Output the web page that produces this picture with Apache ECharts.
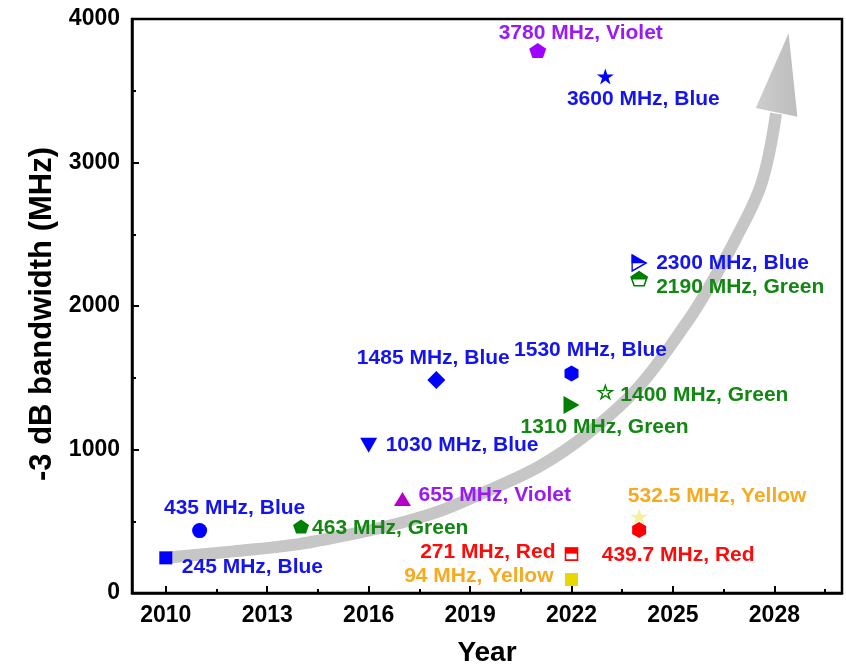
<!DOCTYPE html>
<html>
<head>
<meta charset="utf-8">
<title>-3 dB bandwidth by year</title>
<script src="https://cdn.jsdelivr.net/npm/echarts@6/dist/echarts.min.js"></script>
<style>
  html, body { margin: 0; padding: 0; background: #ffffff; }
  #chart { width: 846px; height: 665px; }
</style>
</head>
<body>
<div id="chart"></div>
<script>
// ---- data -------------------------------------------------------------
const years = [2010, 2011, 2014, 2016, 2017, 2018, 2021, 2022, 2022, 2022, 2022, 2023, 2023, 2024, 2024, 2024, 2024];
const bandwidths = [245, 435, 463, 1030, 655, 1485, 3780, 1530, 1310, 271, 94, 3600, 1400, 2300, 2190, 532.5, 439.7];
const colourNames = ['Blue', 'Blue', 'Green', 'Blue', 'Violet', 'Blue', 'Violet', 'Blue', 'Green', 'Red', 'Yellow', 'Blue', 'Green', 'Blue', 'Green', 'Yellow', 'Red'];

const xTickValues = [2010, 2013, 2016, 2019, 2022, 2025, 2028];
const xMinorTickValues = [2011.5, 2014.5, 2017.5, 2020.5, 2023.5, 2026.5, 2029.5];

// trend arrow: shaft path and head (year, MHz)
const arrowPathYears = [2010.15, 2012, 2013.94, 2015.5, 2016.9, 2018.2, 2019.35, 2021.03, 2022.5, 2024.0, 2025.46, 2026.05, 2026.84, 2027.62, 2028.05];
const arrowPathValues = [249, 290, 341, 410, 486, 580, 695, 880, 1115, 1440, 1902, 2125, 2460, 2855, 3340];
const arrowHeadYears = [2027.45, 2028.42, 2028.68];
const arrowHeadValues = [3380, 3900, 3318];

// ---- styling ----------------------------------------------------------
const labelColours = {
  Blue: '#1414f0', Green: '#118811', Violet: '#9b19f5', Red: '#ff0a0a', Yellow: '#f8aa1e'
};
const BLUE = '#0000ff', GREEN = '#008000', RED = '#ff0000';

const PENTAGON = 'path://M0,-1 L0.951,-0.309 L0.588,0.809 L-0.588,0.809 L-0.951,-0.309 Z';
const PENTAGON_TOP = 'path://M0,-1 L0.951,-0.309 L0.851,0 L-0.851,0 L-0.951,-0.309 Z';
const HEXAGON = 'path://M0,-1 L0.866,-0.5 L0.866,0.5 L0,1 L-0.866,0.5 L-0.866,-0.5 Z';
const STAR = 'path://M0,-1 L0.2245,-0.309 L0.951,-0.309 L0.363,0.118 L0.588,0.809 L0,0.382 L-0.588,0.809 L-0.363,0.118 L-0.951,-0.309 L-0.2245,-0.309 Z';
const TRI_RIGHT = 'path://M0,0 L2,1 L0,2 Z';
const TRI_RIGHT_TOP = 'path://M0,0 L2,1 L0,1 Z';
const TRI_DOWN = 'path://M0,0 L2,0 L1,2 Z';

// one entry per point: marker look and where its caption sits
const markerStyles = [
  { symbol: 'rect', size: [13, 13], fill: BLUE, align: 'left', offset: [16, 9] },
  { symbol: 'circle', size: [15, 15], fill: BLUE, align: 'center', offset: [35, -22] },
  { symbol: PENTAGON, size: [16, 14], fill: GREEN, align: 'left', offset: [11, 2] },
  { symbol: TRI_DOWN, size: [17, 15], fill: BLUE, align: 'left', offset: [17, 0] },
  { symbol: 'triangle', size: [17, 14], fill: '#b400c8', align: 'left', offset: [16, -4] },
  { symbol: 'diamond', size: [18, 18], fill: BLUE, align: 'center', offset: [-3, -22] },
  { symbol: PENTAGON, size: [17, 15], fill: '#a000ff', align: 'center', offset: [43, -17] },
  { symbol: HEXAGON, size: [14, 16], fill: BLUE, align: 'center', offset: [19, -23] },
  { symbol: TRI_RIGHT, size: [16, 18], fill: GREEN, align: 'center', offset: [33, 22] },
  { symbol: 'rect', size: [12, 12], fill: '#ffffff', stroke: RED, strokeWidth: 1.6, align: 'right', offset: [-16, -2],
    overlay: { symbol: 'rect', size: [13, 6], offset: [0, -3.5], fill: RED } },
  { symbol: 'rect', size: [13, 13], fill: '#e6d800', align: 'right', offset: [-18, -3] },
  { symbol: STAR, size: [17, 16], fill: BLUE, align: 'center', offset: [38, 23] },
  { symbol: STAR, size: [14, 13], fill: '#ffffff', stroke: GREEN, strokeWidth: 1.4, align: 'left', offset: [15, 3] },
  { symbol: TRI_RIGHT, size: [14, 16], fill: '#ffffff', stroke: BLUE, strokeWidth: 1.4, align: 'left', offset: [17, 0],
    overlay: { symbol: TRI_RIGHT_TOP, size: [15, 8.5], offset: [0, -4], fill: BLUE } },
  { symbol: PENTAGON, size: [16, 14], fill: '#ffffff', stroke: GREEN, strokeWidth: 1.5, align: 'left', offset: [17, 8],
    overlay: { symbol: PENTAGON_TOP, size: [17, 8.5], offset: [0, -3.5], fill: GREEN } },
  { symbol: STAR, size: [18, 16], fill: '#f5f0a0', align: 'center', offset: [78, -20] },
  { symbol: HEXAGON, size: [14, 16], fill: RED, align: 'center', offset: [39, 25] }
];

const FONT = '"Liberation Sans", Arial, Helvetica, sans-serif';

// ---- series -----------------------------------------------------------
const series = [];

series.push({
  type: 'line',
  xAxisIndex: 0,
  data: arrowPathYears.map((y, i) => [y, arrowPathValues[i]]),
  smooth: 0.35,
  showSymbol: false,
  symbol: 'none',
  silent: true,
  z: 1,
  lineStyle: { color: '#c6c6c6', width: 12, cap: 'butt' }
});

series.push({
  type: 'custom',
  xAxisIndex: 0,
  silent: true,
  z: 1,
  data: [[arrowHeadYears[1], arrowHeadValues[1]]],
  renderItem: function (params, api) {
    const pts = arrowHeadYears.map((y, i) => api.coord([y, arrowHeadValues[i]]));
    return {
      type: 'polygon',
      shape: { points: pts },
      style: {
        fill: {
          type: 'linear', x: 0, y: 0, x2: 1, y2: 0,
          colorStops: [{ offset: 0, color: '#cdcdcd' }, { offset: 1, color: '#bdbdbd' }]
        }
      }
    };
  }
});

years.forEach((yr, i) => {
  const st = markerStyles[i];
  series.push({
    type: 'scatter',
    xAxisIndex: 0,
    z: 3,
    data: [[yr, bandwidths[i]]],
    symbol: st.symbol,
    symbolSize: st.size,
    itemStyle: {
      color: st.fill,
      borderColor: st.stroke || st.fill,
      borderWidth: st.stroke ? st.strokeWidth : 0,
      opacity: 1
    },
    label: {
      show: true,
      position: 'inside',
      align: st.align,
      verticalAlign: 'middle',
      offset: st.offset,
      formatter: bandwidths[i] + ' MHz, ' + colourNames[i],
      color: labelColours[colourNames[i]],
      fontFamily: FONT,
      fontWeight: 'bold',
      fontSize: 21
    },
    emphasis: { disabled: true }
  });
  if (st.overlay) {
    series.push({
      type: 'scatter',
      xAxisIndex: 0,
      z: 4,
      data: [[yr, bandwidths[i]]],
      symbol: st.overlay.symbol,
      symbolSize: st.overlay.size,
      symbolOffset: st.overlay.offset,
      itemStyle: { color: st.overlay.fill, opacity: 1 },
      label: { show: false },
      emphasis: { disabled: true }
    });
  }
});

// ---- chart ------------------------------------------------------------
const chart = echarts.init(document.getElementById('chart'), null, { renderer: 'canvas' });

chart.setOption({
  backgroundColor: '#ffffff',
  animation: false,
  grid: {
    left: 132, right: 4, top: 19, bottom: 72,
    outerBoundsMode: 'none',
    containLabel: false,
    show: true, borderColor: '#000000', borderWidth: 2.5, backgroundColor: 'transparent'
  },
  xAxis: [
    {
      type: 'value',
      min: 2009, max: 2030,
      name: 'Year',
      nameLocation: 'middle',
      nameGap: 46,
      nameTextStyle: { fontFamily: FONT, fontWeight: 'bold', fontSize: 28, color: '#000' },
      axisLine: { show: true, lineStyle: { color: '#000', width: 2.5 } },
      axisTick: { show: true, inside: true, length: 7, lineStyle: { color: '#000', width: 2 }, customValues: xTickValues },
      axisLabel: {
        show: true, margin: 11, customValues: xTickValues,
        fontFamily: FONT, fontWeight: 'bold', fontSize: 23, color: '#000',
        formatter: v => String(v)
      },
      splitLine: { show: false }
    },
    {
      type: 'value',
      min: 2009, max: 2030,
      position: 'bottom',
      axisLine: { show: false },
      axisTick: { show: true, inside: true, length: 4, lineStyle: { color: '#000', width: 2 }, customValues: xMinorTickValues },
      axisLabel: { show: false },
      splitLine: { show: false }
    }
  ],
  yAxis: {
    type: 'value',
    min: 0, max: 4000, interval: 1000,
    name: '-3 dB bandwidth (MHz)',
    nameLocation: 'middle',
    nameGap: 74,
    nameTextStyle: { fontFamily: FONT, fontWeight: 'bold', fontSize: 31, color: '#000', padding: [0, 16, 0, 0] },
    axisLine: { show: true, lineStyle: { color: '#000', width: 2.5 } },
    axisTick: { show: true, inside: true, length: 7, lineStyle: { color: '#000', width: 2 } },
    minorTick: { show: true, splitNumber: 2, length: 4, lineStyle: { color: '#000', width: 2 } },
    axisLabel: {
      margin: 12, fontFamily: FONT, fontWeight: 'bold', fontSize: 23, color: '#000',
      formatter: v => String(v)
    },
    splitLine: { show: false },
    minorSplitLine: { show: false }
  },
  series: series
});
</script>
</body>
</html>
